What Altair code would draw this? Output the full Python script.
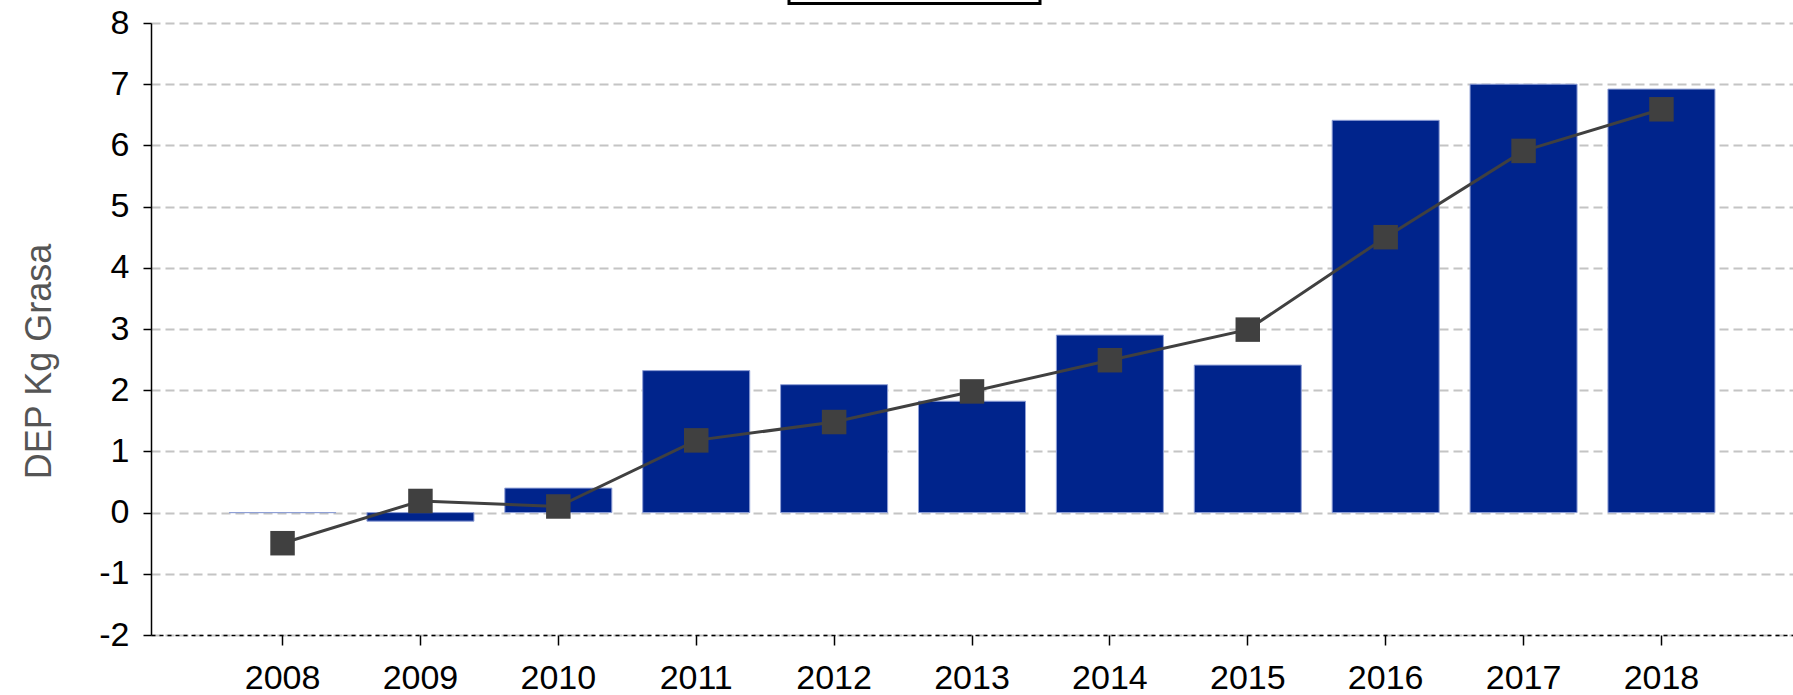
import altair as alt
import pandas as pd

years = ["2008", "2009", "2010", "2011", "2012", "2013", "2014", "2015", "2016", "2017", "2018"]
bar_values = [0.0, -0.14, 0.40, 2.32, 2.09, 1.82, 2.90, 2.41, 6.41, 7.00, 6.92]
line_values = [-0.5, 0.19, 0.10, 1.18, 1.48, 1.98, 2.49, 2.99, 4.50, 5.91, 6.59]
y_ticks = [-2, -1, 0, 1, 2, 3, 4, 5, 6, 7, 8]

df = pd.DataFrame({"year": years, "bar": bar_values, "line": line_values})

FONT = "Liberation Sans"

x_enc = alt.X(
    "year:N",
    sort=years,
    scale=alt.Scale(paddingInner=0.224, paddingOuter=0.566),
    axis=alt.Axis(
        title=None,
        labelAngle=0,
        labelFont=FONT,
        labelFontSize=34,
        labelColor="#000000",
        labelPadding=16,
        tickSize=10,
        tickColor="#000000",
        tickWidth=1.5,
        domainColor="#000000",
        domainWidth=1.5,
        domainDash=[4, 4],
        grid=False,
    ),
)

y_scale = alt.Scale(domain=[-2, 8], nice=False, zero=False)

bars = alt.Chart(df).mark_bar(
    color="#00248c", stroke="#8f9fd6", strokeWidth=1
).encode(
    x=x_enc,
    y=alt.Y(
        "bar:Q",
        scale=y_scale,
        axis=alt.Axis(
            values=y_ticks,
            labelExpr="'' + datum.value",
            title="DEP Kg Grasa",
            titleFont=FONT,
            titleFontSize=36,
            titleFontWeight="normal",
            titleColor="#555555",
            titleAngle=270,
            titleAlign="center",
            titleBaseline="middle",
            titleX=-112,
            titleY=338,
            labelFont=FONT,
            labelFontSize=34,
            labelColor="#000000",
            labelPadding=14,
            tickSize=8,
            tickColor="#000000",
            tickWidth=1.5,
            domainColor="#000000",
            domainWidth=1.5,
            grid=True,
            gridColor="#c4c4c4",
            gridDash=[9, 5],
            gridWidth=1.8,
        ),
    ),
)

line = alt.Chart(df).mark_line(color="#404040", strokeWidth=3).encode(
    x=alt.X("year:N", sort=years),
    y=alt.Y("line:Q", scale=y_scale),
)

points = alt.Chart(df).mark_point(
    shape="square", size=600, filled=True, color="#404040", opacity=1
).encode(
    x=alt.X("year:N", sort=years),
    y=alt.Y("line:Q", scale=y_scale),
)

legend_box = alt.Chart(pd.DataFrame({"k": [0]})).mark_rect(
    fill="#ffffff", stroke="#000000", strokeWidth=3, clip=False
).encode(
    x=alt.value(638),
    x2=alt.value(889),
    y=alt.value(-60),
    y2=alt.value(-19.5),
)

chart = (
    alt.layer(bars, line, points, legend_box)
    .properties(
        width=1642,
        height=612,
        autosize=alt.AutoSizeParams(type="none"),
        padding={"left": 151, "top": 23, "right": 0, "bottom": 60},
        background="#ffffff",
    )
    .configure_view(stroke=None)
)

chart.save("out.html", embed_options={"renderer": "svg", "actions": False})
